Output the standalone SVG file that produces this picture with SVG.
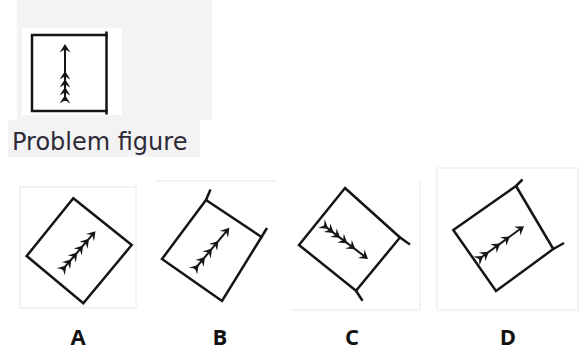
<svg xmlns="http://www.w3.org/2000/svg" xmlns:xlink="http://www.w3.org/1999/xlink" width="585" height="353" viewBox="0 0 585 353">
  <style>
    .sq { fill: none; stroke: #151515; stroke-width: 2.5; stroke-linejoin: miter; stroke-linecap: square; }
    .tk { fill: none; stroke: #151515; stroke-width: 2.5; stroke-linecap: butt; }
    .shaft { stroke: #151515; stroke-width: 2; fill: none; }
    .hd { fill: #151515; }
    .frame { fill: none; stroke: #f0f0f0; stroke-width: 1.5; }
    .lbl { font-family: "Open Sans", "DejaVu Sans", sans-serif; font-weight: 700; font-size: 22px; fill: #111; text-anchor: middle; }
    .cap { font-family: "DejaVu Sans", "Noto Sans", sans-serif; font-size: 24px; fill: #2e2a38; }
  </style>
  <defs>
    <path id="hd" class="hd" d="M0,0 L-8.5,-5.4 L-5.2,0 L-8.5,5.4 Z"/>
  </defs>
  <rect width="585" height="353" fill="#ffffff"/>

  <!-- Problem figure -->
  <g id="problem">
    <rect x="17" y="0" width="195" height="120" fill="#f3f3f3"/>
    <rect x="8" y="120" width="192" height="37" fill="#f3f3f3"/>
    <rect x="22" y="28" width="100" height="87" fill="#ffffff"/>
    <path class="sq" d="M106.5,35 L32,35 L32,111 L106.5,111"/>
    <line class="tk" x1="106.5" y1="31.5" x2="106.5" y2="114.5"/>
    <g transform="translate(65,102) rotate(-90)">
      <line class="shaft" x1="1" y1="0" x2="54" y2="0"/>
      <use xlink:href="#hd" x="58"/>
      <use xlink:href="#hd" x="31"/>
      <use xlink:href="#hd" x="23"/>
      <use xlink:href="#hd" x="15"/>
      <use xlink:href="#hd" x="7"/>
    </g>
    <text class="cap" x="12" y="150">Problem figure</text>
  </g>

  <!-- Option A -->
  <g id="optA">
    <rect class="frame" x="20" y="187" width="116" height="121"/>
    <polygon class="sq" points="73.3,198.3 131.7,245 83.3,303.3 26.7,256"/>
    <g transform="translate(61.7,270.7) rotate(-49.5)">
      <line class="shaft" x1="1" y1="0" x2="48" y2="0"/>
      <use xlink:href="#hd" x="52"/>
      <use xlink:href="#hd" x="42"/>
      <use xlink:href="#hd" x="33"/>
      <use xlink:href="#hd" x="24"/>
      <use xlink:href="#hd" x="15"/>
      <use xlink:href="#hd" x="7"/>
    </g>
    <text class="lbl" x="78" y="345">A</text>
  </g>

  <!-- Option B -->
  <g id="optB">
    <line class="frame" x1="155" y1="181" x2="277" y2="181"/>
    <polygon class="sq" points="206,200 261.5,237 222,301 162,259"/>
    <line class="tk" x1="206" y1="200" x2="210.5" y2="189.5"/>
    <line class="tk" x1="261.5" y1="237" x2="267" y2="228"/>
    <g transform="translate(194,270) rotate(-50)">
      <line class="shaft" x1="1" y1="0" x2="51" y2="0"/>
      <use xlink:href="#hd" x="55"/>
      <use xlink:href="#hd" x="38"/>
      <use xlink:href="#hd" x="28"/>
      <use xlink:href="#hd" x="17"/>
      <use xlink:href="#hd" x="7"/>
    </g>
    <text class="lbl" x="220" y="345">B</text>
  </g>

  <!-- Option C -->
  <g id="optC">
    <line class="frame" x1="420" y1="182" x2="420" y2="310"/>
    <line class="frame" x1="292" y1="310" x2="420" y2="310"/>
    <polygon class="sq" points="345,188 400,237.5 356,290.7 299,245"/>
    <line class="tk" x1="400" y1="237.5" x2="410" y2="244.5"/>
    <line class="tk" x1="356" y1="290.7" x2="362.5" y2="300.7"/>
    <g transform="translate(325,226.3) rotate(37.2)">
      <line class="shaft" x1="1" y1="0" x2="50" y2="0"/>
      <use xlink:href="#hd" x="54"/>
      <use xlink:href="#hd" x="38"/>
      <use xlink:href="#hd" x="28"/>
      <use xlink:href="#hd" x="19"/>
      <use xlink:href="#hd" x="11"/>
      <use xlink:href="#hd" x="4"/>
    </g>
    <text class="lbl" x="352" y="345">C</text>
  </g>

  <!-- Option D -->
  <g id="optD">
    <rect class="frame" x="437" y="168" width="141" height="142"/>
    <polygon class="sq" points="516,186 553.3,249 496,291 453.3,230"/>
    <line class="tk" x1="516" y1="186" x2="522.5" y2="179.5"/>
    <line class="tk" x1="553.3" y1="249" x2="564" y2="243"/>
    <g transform="translate(480,258.3) rotate(-36.1)">
      <line class="shaft" x1="1" y1="0" x2="51" y2="0"/>
      <use xlink:href="#hd" x="54.5"/>
      <use xlink:href="#hd" x="37"/>
      <use xlink:href="#hd" x="25"/>
      <use xlink:href="#hd" x="11"/>
      <use xlink:href="#hd" x="4"/>
    </g>
    <text class="lbl" x="508" y="345">D</text>
  </g>

  <g id="connectors"></g>
</svg>
